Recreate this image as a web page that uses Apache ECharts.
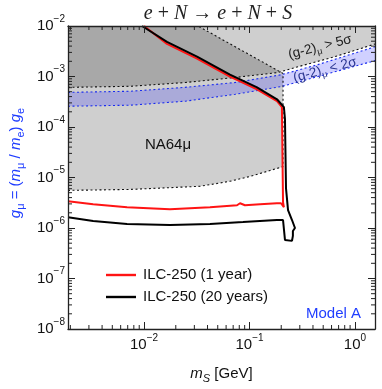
<!DOCTYPE html>
<html>
<head>
<meta charset="UTF-8">
<title>e + N → e + N + S</title>
<script src="https://cdn.jsdelivr.net/npm/echarts@6/dist/echarts.min.js"></script>
<style>
  * { margin: 0; padding: 0; }
  #main { width: 382px; height: 389px; background: #fff; }
</style>
</head>
<body>
<div id="main"></div>
<script>
// axis ranges: m_S in GeV, coupling g_mu
var xRange = [0.0019, 1.55];
var yRange = [1e-8, 1e-2];

// (g-2)_mu > 5 sigma boundary (excluded above)
var gm2Excl = [[0.0019, 6.1e-4], [0.0074, 6.4e-4], [0.0245, 7.6e-4], [0.073, 9.55e-4],
               [0.186, 1.2e-3], [0.315, 1.64e-3], [0.646, 2.47e-3], [1.55, 4.4e-3]];
// (g-2)_mu 2 sigma band
var bandUpper = [[0.0019, 4.85e-4], [0.0074, 5.1e-4], [0.0245, 6.1e-4], [0.073, 7.6e-4],
                 [0.203, 1.09e-3], [0.446, 1.72e-3], [1.55, 3.87e-3]];
var bandLower = [[0.0019, 2.58e-4], [0.0074, 2.7e-4], [0.0245, 3.24e-4], [0.073, 4.44e-4],
                 [0.203, 6.37e-4], [0.446, 1.0e-3], [1.55, 2.06e-3]];
// NA64mu excluded region outline (lower edge, right edge, diagonal top)
var na64Edge = [[0.0019, 5.56e-6], [0.0074, 5.8e-6], [0.034, 6.7e-6], [0.065, 8.4e-6],
                [0.101, 1.05e-5], [0.208, 1.64e-5], [0.208, 1.15e-3], [0.0325, 1e-2]];

// ILC-250 sensitivity contours
var ilc1yr = [[0.0100, 1e-2], [0.0165, 4.43e-3], [0.0318, 2.25e-3], [0.0653, 1.0e-3],
              [0.1178, 5.56e-4], [0.1823, 3.24e-4], [0.203, 2.47e-4], [0.208, 3.24e-6],
              [0.212, 2.58e-6], [0.199, 3.09e-6], [0.182, 3.09e-6], [0.126, 2.96e-6],
              [0.0906, 2.82e-6], [0.0813, 3.09e-6], [0.0762, 2.82e-6], [0.0422, 2.58e-6],
              [0.0176, 2.36e-6], [0.0069, 2.58e-6], [0.00329, 2.96e-6], [0.0019, 3.38e-6]];
var ilc20yr = [[0.00958, 1e-2], [0.0165, 4.86e-3], [0.0318, 2.47e-3], [0.0653, 1.09e-3],
               [0.1178, 6.1e-4], [0.1823, 3.54e-4], [0.212, 2.47e-4], [0.217, 1.44e-4],
               [0.222, 6.1e-6], [0.232, 2.25e-6], [0.253, 1.44e-6], [0.27, 1.0e-6],
               [0.258, 8.7e-7], [0.258, 7e-7], [0.253, 5.56e-7], [0.217, 5.8e-7],
               [0.208, 1.44e-6], [0.182, 1.44e-6], [0.0867, 1.31e-6], [0.0422, 1.2e-6],
               [0.0176, 1.15e-6], [0.0069, 1.2e-6], [0.00329, 1.37e-6], [0.0019, 1.64e-6]];

var seriesNames = ['ILC-250 (1 year)', 'ILC-250 (20 years)'];

var FONT = '"Liberation Sans", Arial, sans-serif';
var SERIF = '"Liberation Serif", "DejaVu Serif", serif';
var frameColor = '#222';

// closed regions
var na64Region = [[xRange[0], yRange[1]]].concat(na64Edge.slice().reverse());
var gm2Region = gm2Excl.concat([[xRange[1], yRange[1]], [xRange[0], yRange[1]]]);
var bandRegion = bandUpper.concat(bandLower.slice().reverse());

function minorValues(lo, hi) {
  var out = [];
  for (var e = Math.floor(Math.log10(lo)); e <= Math.ceil(Math.log10(hi)); e++) {
    for (var k = 2; k <= 9; k++) {
      var v = k * Math.pow(10, e);
      if (v > lo && v < hi) out.push(v);
    }
  }
  return out;
}
var xMinor = minorValues(xRange[0], xRange[1]);
var yMinor = minorValues(yRange[0], yRange[1]);

function polygonSeries(pts, color) {
  return {
    type: 'custom', silent: true, z: 1,
    data: [pts[0]],
    renderItem: function (params, api) {
      return {
        type: 'polygon',
        shape: { points: pts.map(function (p) { return api.coord(p); }) },
        style: { fill: color }
      };
    }
  };
}

function dottedSeries(pts, color) {
  return {
    type: 'line', data: pts, symbol: 'none', silent: true, z: 3,
    lineStyle: { color: color, width: 1.1, type: [2, 2.5] }
  };
}

function powLabel(v) {
  var e = Math.log10(v);
  if (Math.abs(e - Math.round(e)) > 1e-6) return '';
  e = Math.round(e);
  return '{b|10}{sup|' + (e < 0 ? '\u2212' + (-e) : e) + '}';
}

var labelRich = {
  b: { fontSize: 15, lineHeight: 24, fontFamily: FONT, color: '#111' },
  sup: { fontSize: 10, verticalAlign: 'top', fontFamily: FONT, color: '#111' }
};

function logAxis(range, extra) {
  var ax = {
    type: 'log', logBase: 10, min: range[0], max: range[1], z: 10,
    axisLine: { show: true, onZero: false, lineStyle: { color: frameColor, width: 1.3 } },
    axisTick: { show: true, inside: true, length: 7, lineStyle: { color: frameColor, width: 1 } },
    splitLine: { show: false },
    axisLabel: { show: false }
  };
  for (var k in extra) ax[k] = extra[k];
  return ax;
}

var chart = echarts.init(document.getElementById('main'));

chart.setOption({
  animation: false,
  backgroundColor: '#fff',
  grid: { left: 68, right: 7, top: 26, bottom: 57 },
  xAxis: [
    logAxis(xRange, {
      position: 'bottom',
      axisLabel: { show: true, margin: 4, formatter: powLabel, rich: labelRich, showMinLabel: false, showMaxLabel: false },
      name: '{i|m}{sub|S} [GeV]',
      nameLocation: 'middle',
      nameGap: 35,
      nameTextStyle: {
        fontSize: 15, fontFamily: FONT, color: '#111', lineHeight: 20,
        rich: {
          i: { fontSize: 15, fontStyle: 'italic', fontFamily: FONT, color: '#111' },
          sub: { fontSize: 11, fontStyle: 'italic', verticalAlign: 'bottom', fontFamily: FONT, color: '#111' }
        }
      }
    }),
    logAxis(xRange, { position: 'top' })
  ],
  yAxis: [
    logAxis(yRange, {
      position: 'left',
      axisLabel: { show: true, margin: 3, formatter: powLabel, rich: labelRich, showMinLabel: true, showMaxLabel: true }
    }),
    logAxis(yRange, { position: 'right' })
  ],
  legend: {
    data: seriesNames,
    orient: 'vertical',
    left: 101, top: 261,
    icon: 'rect',
    itemWidth: 30, itemHeight: 2.4, itemGap: 4,
    textStyle: { fontSize: 15, fontFamily: FONT, color: '#111', lineHeight: 18, padding: [0, 0, 0, 2] }
  },
  graphic: [
    {
      type: 'text', x: 218, y: 14,
      style: {
        text: '{i|e} + {i|N} \u2192 {i|e} + {i|N} + {i|S}',
        fontSize: 20, fontFamily: SERIF, fill: '#222',
        textAlign: 'center', textVerticalAlign: 'middle',
        rich: { i: { fontSize: 20, fontStyle: 'italic', fontFamily: SERIF, fill: '#222' } }
      }
    },
    {
      type: 'text', x: 16, y: 163, rotation: Math.PI / 2,
      style: {
        text: '{i|g}{sub|\u03bc} = ({i|m}{sub|\u03bc} / {i|m}{sub|e}) {i|g}{sub|e}',
        fontSize: 15, fontFamily: FONT, fill: '#1f3dff', lineHeight: 20,
        textAlign: 'center', textVerticalAlign: 'middle',
        rich: {
          i: { fontSize: 15, fontStyle: 'italic', fontFamily: FONT, fill: '#1f3dff' },
          sub: { fontSize: 11, verticalAlign: 'bottom', fontFamily: FONT, fill: '#1f3dff' }
        }
      }
    },
    {
      type: 'text', x: 168, y: 145, z: 20,
      style: { text: 'NA64\u03bc', fontSize: 15, fontFamily: FONT, fill: '#111', textAlign: 'center', textVerticalAlign: 'middle' }
    },
    {
      type: 'text', x: 320, y: 47, rotation: 0.25, z: 20,
      style: {
        text: '(g-2){sub|\u03bc} > 5\u03c3', fontSize: 13.5, fontFamily: FONT, fill: '#222', lineHeight: 18,
        textAlign: 'center', textVerticalAlign: 'middle',
        rich: { sub: { fontSize: 9, verticalAlign: 'bottom', fontFamily: FONT, fill: '#222' } }
      }
    },
    {
      type: 'text', x: 325, y: 70, rotation: 0.26, z: 20,
      style: {
        text: '(g-2){sub|\u03bc} < 2\u03c3', fontSize: 13.5, fontFamily: FONT, fill: '#2a3590', lineHeight: 18,
        textAlign: 'center', textVerticalAlign: 'middle',
        rich: { sub: { fontSize: 9, verticalAlign: 'bottom', fontFamily: FONT, fill: '#2a3590' } }
      }
    },
    {
      type: 'text', x: 361, y: 314, z: 20,
      style: { text: 'Model A', fontSize: 15, fontFamily: FONT, fill: '#1f3dff', textAlign: 'right', textVerticalAlign: 'middle' }
    }
  ],
  series: [
    polygonSeries(na64Region, 'rgba(0,0,0,0.19)'),
    polygonSeries(gm2Region, 'rgba(0,0,0,0.19)'),
    polygonSeries(bandRegion, 'rgba(40,40,255,0.22)'),
    dottedSeries(na64Edge, '#111'),
    dottedSeries(gm2Excl, '#111'),
    dottedSeries(bandUpper, '#1a2cf0'),
    dottedSeries(bandLower, '#1a2cf0'),
    {
      name: seriesNames[0], type: 'line', data: ilc1yr, symbol: 'none', z: 5,
      lineStyle: { color: '#ff1414', width: 2 }, itemStyle: { color: '#ff1414' }
    },
    {
      name: seriesNames[1], type: 'line', data: ilc20yr, symbol: 'none', z: 6,
      lineStyle: { color: '#000', width: 2 }, itemStyle: { color: '#000' }
    },
    {
      // minor ticks on all four sides of the frame
      type: 'custom', silent: true, z: 11,
      data: [[xRange[0], yRange[0]]],
      renderItem: function (params, api) {
        var cs = params.coordSys;
        var kids = [];
        function seg(x1, y1, x2, y2) {
          kids.push({ type: 'line', shape: { x1: x1, y1: y1, x2: x2, y2: y2 }, style: { stroke: frameColor, lineWidth: 1 } });
        }
        var bottom = cs.y + cs.height, right = cs.x + cs.width;
        xMinor.forEach(function (v) {
          var px = api.coord([v, yRange[0]])[0];
          seg(px, bottom, px, bottom - 4);
          seg(px, cs.y, px, cs.y + 4);
        });
        yMinor.forEach(function (v) {
          var py = api.coord([xRange[0], v])[1];
          seg(cs.x, py, cs.x + 4, py);
          seg(right, py, right - 4, py);
        });
        return { type: 'group', children: kids };
      }
    }
  ]
});
</script>
</body>
</html>
